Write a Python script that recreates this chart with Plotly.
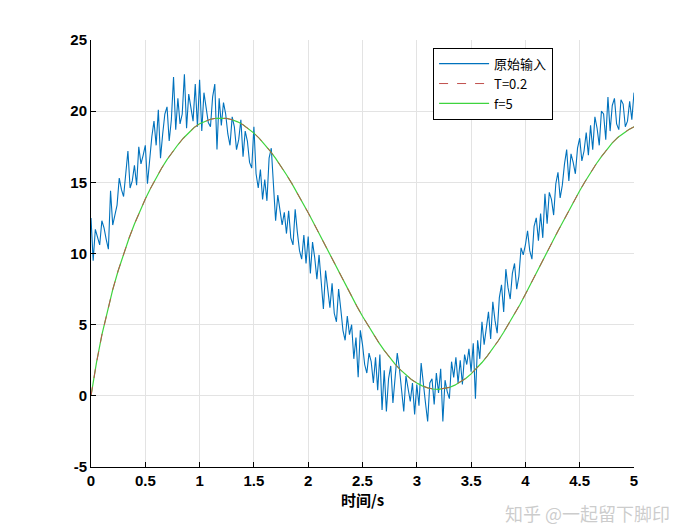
import plotly.graph_objects as go

# === Data ===
# raw noisy input, sampled every 0.02 s from t = 0 to 5
raw_dt = 0.02
raw_input = [
    12.5, 9.5, 11.7, 11.2, 10.6, 12.3, 11.8, 11.0, 10.3, 14.4,
    12.0, 12.7, 13.4, 15.3, 14.5, 14.0, 15.6, 17.2, 14.6, 15.1,
    16.2, 14.8, 17.5, 16.3, 16.9, 17.6, 14.9, 16.8, 18.2, 19.3,
    17.6, 20.1, 16.7, 18.4, 19.8, 20.3, 17.9, 19.4, 22.4, 18.7,
    20.9, 19.1, 19.8, 22.6, 18.8, 21.2, 20.1, 19.3, 21.9, 18.9,
    22.2, 18.6, 21.3, 20.4, 19.2, 18.9, 21.0, 21.9, 17.3, 20.9,
    19.0, 20.6, 19.8, 18.4, 17.6, 19.6, 18.9, 17.3, 18.0, 19.4,
    16.8, 18.6, 17.9, 16.4, 16.0, 18.9, 15.6, 14.6, 15.9, 13.8,
    15.2, 13.7, 16.7, 17.4, 14.6, 12.3, 14.1, 13.2, 12.0, 12.9,
    11.4, 13.0, 11.1, 10.6, 13.1, 11.5, 10.2, 9.6, 11.3, 9.3,
    11.2, 8.6, 10.8, 9.7, 8.2, 9.9, 7.7, 6.1, 8.8, 7.6,
    6.2, 7.9, 5.8, 5.2, 7.5, 6.1, 4.6, 3.9, 5.6, 4.3,
    5.0, 2.6, 4.1, 1.3, 4.6, 3.6, 2.2, 1.6, 3.0, 2.4,
    0.9, 2.7, 0.4, 2.9, -1.0, 1.8, -1.1, 1.2, 2.1, -0.5,
    1.5, 3.0, 1.9, 0.1, -1.1, 1.4, 0.6, -0.4, 0.9, -1.3,
    0.8, -0.7, 2.3, 0.7, -0.5, -1.8, 0.9, 1.2, -0.6, 1.6,
    0.2, 1.9, -1.8, 1.1, 0.3, -0.2, 2.4, 1.3, 2.7, 0.9,
    2.5, 0.8, 2.9, 2.2, 3.3, 1.7, 3.7, -0.2, 3.9, 2.6,
    5.2, 3.6, 4.8, 5.9, 4.0, 6.6, 5.3, 4.4, 6.9, 7.8,
    5.9, 8.9, 7.6, 6.8, 8.6, 9.3, 7.5, 8.4, 10.4, 9.9,
    10.6, 11.6, 10.2, 9.6, 11.9, 12.5, 10.9, 12.8, 11.1, 14.2,
    12.1, 14.3, 13.8, 12.7, 14.9, 15.7, 13.9, 14.8, 16.3, 17.3,
    15.1, 17.0, 16.4, 15.6, 17.4, 18.1, 16.5, 17.2, 18.5, 16.9,
    19.0, 17.3, 19.6, 18.8, 17.6, 20.0, 19.8, 18.0, 21.0, 18.6,
    20.4, 20.9, 19.1, 18.7, 20.8, 20.5, 18.9, 19.3, 20.7, 19.4,
    21.3,
]

# filtered outputs, sampled every 0.05 s from t = 0 to 5
filt_dt = 0.05
filtered_T02 = [
    0.00, 2.30, 4.27, 5.97, 7.46, 8.79, 9.99, 11.07, 12.07, 12.98,
    13.83, 14.60, 15.32, 15.99, 16.60, 17.15, 17.64, 18.10, 18.50, 18.85,
    19.12, 19.30, 19.43, 19.50, 19.52, 19.49, 19.40, 19.25, 19.04, 18.78,
    18.46, 18.09, 17.66, 17.19, 16.68, 16.13, 15.53, 14.91, 14.26, 13.58,
    12.86, 12.14, 11.40, 10.66, 9.91, 9.16, 8.42, 7.69, 6.97, 6.27,
    5.59, 4.94, 4.32, 3.74, 3.19, 2.69, 2.23, 1.82, 1.46, 1.15,
    0.90, 0.70, 0.56, 0.48, 0.46, 0.50, 0.59, 0.75, 0.96, 1.22,
    1.54, 1.91, 2.34, 2.81, 3.32, 3.87, 4.47, 5.09, 5.74, 6.42,
    7.14, 7.86, 8.60, 9.34, 10.09, 10.84, 11.58, 12.31, 13.03, 13.74,
    14.41, 15.06, 15.68, 16.27, 16.81, 17.31, 17.77, 18.15, 18.45, 18.70,
    18.90,
]
filtered_f5 = [
    0.00, 2.31, 4.28, 5.98, 7.46, 8.79, 9.99, 11.07, 12.07, 12.98,
    13.83, 14.60, 15.32, 15.99, 16.60, 17.15, 17.64, 18.10, 18.50, 18.85,
    19.12, 19.30, 19.43, 19.50, 19.52, 19.49, 19.40, 19.25, 19.04, 18.78,
    18.46, 18.09, 17.66, 17.19, 16.68, 16.13, 15.53, 14.91, 14.26, 13.58,
    12.86, 12.14, 11.40, 10.66, 9.91, 9.16, 8.42, 7.69, 6.97, 6.27,
    5.59, 4.94, 4.32, 3.74, 3.19, 2.69, 2.23, 1.82, 1.46, 1.15,
    0.90, 0.70, 0.56, 0.48, 0.46, 0.50, 0.59, 0.75, 0.96, 1.22,
    1.54, 1.91, 2.34, 2.81, 3.32, 3.87, 4.47, 5.09, 5.74, 6.42,
    7.14, 7.86, 8.60, 9.34, 10.09, 10.84, 11.58, 12.31, 13.03, 13.74,
    14.41, 15.06, 15.68, 16.27, 16.81, 17.31, 17.77, 18.15, 18.45, 18.70,
    18.90,
]

x_ticks = [0, 0.5, 1, 1.5, 2, 2.5, 3, 3.5, 4, 4.5, 5]
y_ticks = [-5, 0, 5, 10, 15, 20, 25]

# === Figure ===
fig = go.Figure()
fig.add_trace(go.Scatter(
    y=raw_input, x0=0, dx=raw_dt, mode="lines", name="原始输入", legendrank=1,
    line=dict(color="#0072BD", width=1.1),
))
fig.add_trace(go.Scatter(
    y=filtered_f5, x0=0, dx=filt_dt, mode="lines", name="f=5", legendrank=3,
    line=dict(color="#3ed43e", width=1.2),
))
# red dashed drawn on top of the green one, as in the reference
fig.add_trace(go.Scatter(
    y=filtered_T02, x0=0, dx=filt_dt, mode="lines", name="T=0.2", legendrank=2,
    line=dict(color="#c0504d", width=1, dash="dash"),
))

axis_font = dict(family="Liberation Sans, Arial", size=15, color="black", weight="bold")

# page body has an 8px margin, margins below account for it
fig.update_layout(
    width=700, height=525,
    margin=dict(l=83, r=74, t=32, b=66),
    paper_bgcolor="white", plot_bgcolor="white",
    showlegend=True,
    legend=dict(
        x=0.63, y=0.982, xanchor="left", yanchor="top",
        bgcolor="white", bordercolor="black", borderwidth=1,
        font=dict(family="Noto Sans CJK SC, Liberation Sans", size=13, color="black"),
        tracegroupgap=0, itemwidth=50,
    ),
    xaxis=dict(
        range=[0, 5], tickvals=x_ticks, ticktext=[str(v) for v in x_ticks],
        showgrid=True, gridcolor="#e3e3e3", gridwidth=1,
        showline=True, linecolor="black", linewidth=1,
        ticks="inside", ticklen=5, tickcolor="black",
        tickfont=axis_font, zeroline=False,
        title=dict(text="时间/s", standoff=6,
                   font=dict(family="Noto Sans CJK SC", size=15, color="black", weight="bold")),
    ),
    yaxis=dict(
        range=[-5, 25], tickvals=y_ticks, ticktext=[str(v) for v in y_ticks],
        showgrid=True, gridcolor="#e3e3e3", gridwidth=1,
        showline=True, linecolor="black", linewidth=1,
        ticks="inside", ticklen=5, tickcolor="black",
        tickfont=axis_font, zeroline=False,
    ),
)

# watermark, kept just under the tick labels
fig.add_annotation(
    text="知乎 @一起留下脚印", xref="paper", yref="paper",
    x=0.915, y=-0.108, xanchor="center", yanchor="middle", showarrow=False,
    font=dict(family="Noto Sans CJK SC", size=18, color="rgba(170,170,170,0.6)"),
)

fig.write_html("out.html")
